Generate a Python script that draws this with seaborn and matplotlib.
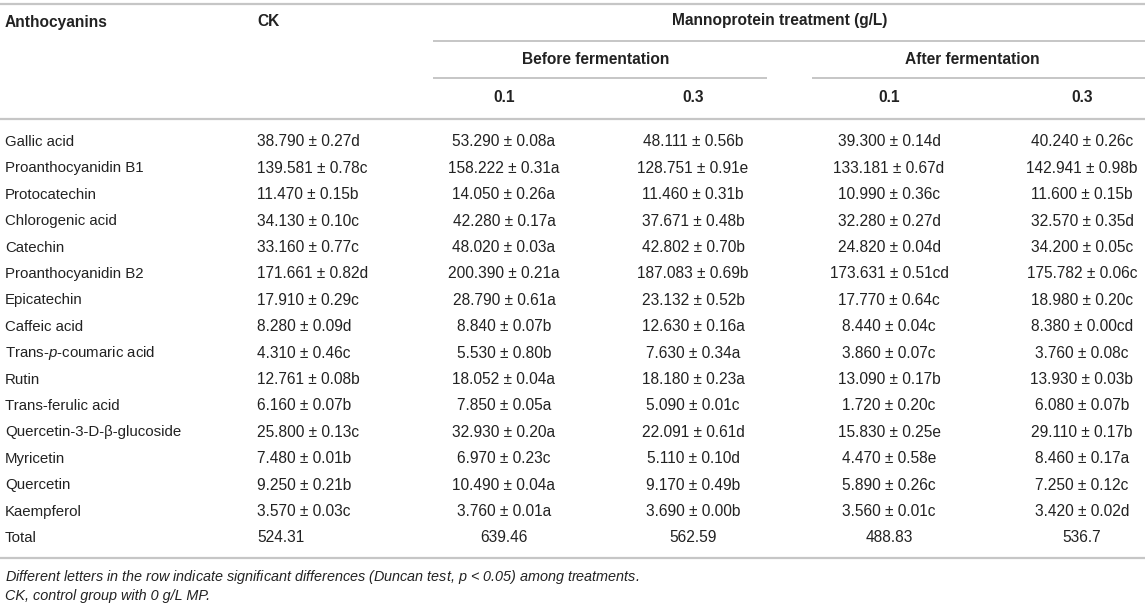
import matplotlib
matplotlib.use("Agg")
import matplotlib.pyplot as plt
import seaborn as sns
import pandas as pd

sns.set_theme(style="white")
plt.rcParams['font.family'] = ['Liberation Sans', 'DejaVu Sans']
plt.rcParams['mathtext.fontset'] = 'custom'
plt.rcParams['mathtext.it'] = 'Liberation Sans:italic'
plt.rcParams['mathtext.rm'] = 'Liberation Sans'

# 表格数据
compounds = ["Gallic acid", "Proanthocyanidin B1", "Protocatechin", "Chlorogenic acid",
             "Catechin", "Proanthocyanidin B2", "Epicatechin", "Caffeic acid",
             "Trans-$\\mathit{p}$-coumaric acid", "Rutin", "Trans-ferulic acid",
             "Quercetin-3-D-β-glucoside", "Myricetin", "Quercetin", "Kaempferol"]

ck_mean = [38.790, 139.581, 11.470, 34.130, 33.160, 171.661, 17.910, 8.280,
           4.310, 12.761, 6.160, 25.800, 7.480, 9.250, 3.570]
ck_sd = [0.27, 0.78, 0.15, 0.10, 0.77, 0.82, 0.29, 0.09, 0.46, 0.08, 0.07, 0.13, 0.01, 0.21, 0.03]
ck_sig = ["d", "c", "b", "c", "c", "d", "c", "d", "c", "b", "b", "c", "b", "b", "c"]

b01_mean = [53.290, 158.222, 14.050, 42.280, 48.020, 200.390, 28.790, 8.840,
            5.530, 18.052, 7.850, 32.930, 6.970, 10.490, 3.760]
b01_sd = [0.08, 0.31, 0.26, 0.17, 0.03, 0.21, 0.61, 0.07, 0.80, 0.04, 0.05, 0.20, 0.23, 0.04, 0.01]
b01_sig = ["a", "a", "a", "a", "a", "a", "a", "b", "b", "a", "a", "a", "c", "a", "a"]

b03_mean = [48.111, 128.751, 11.460, 37.671, 42.802, 187.083, 23.132, 12.630,
            7.630, 18.180, 5.090, 22.091, 5.110, 9.170, 3.690]
b03_sd = [0.56, 0.91, 0.31, 0.48, 0.70, 0.69, 0.52, 0.16, 0.34, 0.23, 0.01, 0.61, 0.10, 0.49, 0.00]
b03_sig = ["b", "e", "b", "b", "b", "b", "b", "a", "a", "a", "c", "d", "d", "b", "b"]

a01_mean = [39.300, 133.181, 10.990, 32.280, 24.820, 173.631, 17.770, 8.440,
            3.860, 13.090, 1.720, 15.830, 4.470, 5.890, 3.560]
a01_sd = [0.14, 0.67, 0.36, 0.27, 0.04, 0.51, 0.64, 0.04, 0.07, 0.17, 0.20, 0.25, 0.58, 0.26, 0.01]
a01_sig = ["d", "d", "c", "d", "d", "cd", "c", "c", "c", "b", "c", "e", "e", "c", "c"]

a03_mean = [40.240, 142.941, 11.600, 32.570, 34.200, 175.782, 18.980, 8.380,
            3.760, 13.930, 6.080, 29.110, 8.460, 7.250, 3.420]
a03_sd = [0.26, 0.98, 0.15, 0.35, 0.05, 0.06, 0.20, 0.00, 0.08, 0.03, 0.07, 0.17, 0.17, 0.12, 0.02]
a03_sig = ["c", "b", "b", "d", "c", "c", "c", "cd", "c", "b", "b", "b", "a", "c", "d"]

totals = [524.31, 639.46, 562.59, 488.83, 536.7]
dose_labels = ["0.1", "0.3", "0.1", "0.3"]
notes = ["Different letters in the row indicate significant differences (Duncan test, $\\mathit{p}$ < 0.05) among treatments.",
         "CK, control group with 0 g/L MP."]


def fmt(means, sds, sigs):
    return [f"{m:.3f} ± {s:.2f}{g}" for m, s, g in zip(means, sds, sigs)]


df = pd.DataFrame({
    "Anthocyanins": compounds,
    "CK": fmt(ck_mean, ck_sd, ck_sig),
    "B0.1": fmt(b01_mean, b01_sd, b01_sig),
    "B0.3": fmt(b03_mean, b03_sd, b03_sig),
    "A0.1": fmt(a01_mean, a01_sd, a01_sig),
    "A0.3": fmt(a03_mean, a03_sd, a03_sig),
})
df.loc[len(df)] = ["Total"] + [f"{t:g}" for t in totals]

W, H = 1145, 608
fig = plt.figure(figsize=(W / 100, H / 100), dpi=100)
ax = fig.add_axes([0, 0, 1, 1])
ax.set_xlim(0, W)
ax.set_ylim(H, 0)
ax.axis('off')

txt = '#222222'
rule = '#c6c6c6'
name_size = 10.8
num_size = 11.2
head = 11.2

# 列位置：第一列左对齐，CK左对齐，其余居中
col_x = {"Anthocyanins": 5, "CK": 257, "B0.1": 504, "B0.3": 693, "A0.1": 889, "A0.3": 1082}
col_ha = {"Anthocyanins": "left", "CK": "left"}

# 表头
ax.text(5, 22, "Anthocyanins", fontsize=head, fontweight='bold', color=txt, va='center')
ax.text(257, 22, "CK", fontsize=head, fontweight='bold', color=txt, va='center')
ax.text(780, 21, "Mannoprotein treatment (g/L)", fontsize=head, fontweight='bold',
        color=txt, va='center', ha='center')
ax.text(596, 60, "Before fermentation", fontsize=head, fontweight='bold', color=txt,
        va='center', ha='center')
ax.text(972, 60, "After fermentation", fontsize=head, fontweight='bold', color=txt,
        va='center', ha='center')
for c, lab in zip(["B0.1", "B0.3", "A0.1", "A0.3"], dose_labels):
    ax.text(col_x[c], 98, lab, fontsize=head, fontweight='bold', color=txt,
            va='center', ha='center')

# 横线
ax.hlines([4, 119, 558], 0, W, color=rule, lw=1.6)
ax.hlines(41, 433, 1145, color=rule, lw=1.4)
ax.hlines(78, 433, 767, color=rule, lw=1.4)
ax.hlines(78, 812, 1145, color=rule, lw=1.4)

# 数据行
y0, dy = 142, 26.4
for i, row in df.iterrows():
    y = y0 + i * dy
    for c in df.columns:
        size = name_size if c == "Anthocyanins" else num_size
        ax.text(col_x[c], y, row[c], fontsize=size, color=txt, va='center',
                ha=col_ha.get(c, 'center'))

# 注释
ax.text(5, 577, notes[0], fontsize=10.4, style='italic', color=txt, va='center')
ax.text(5, 596, notes[1], fontsize=10.4, style='italic', color=txt, va='center')

fig.savefig('out.png', dpi=100)
